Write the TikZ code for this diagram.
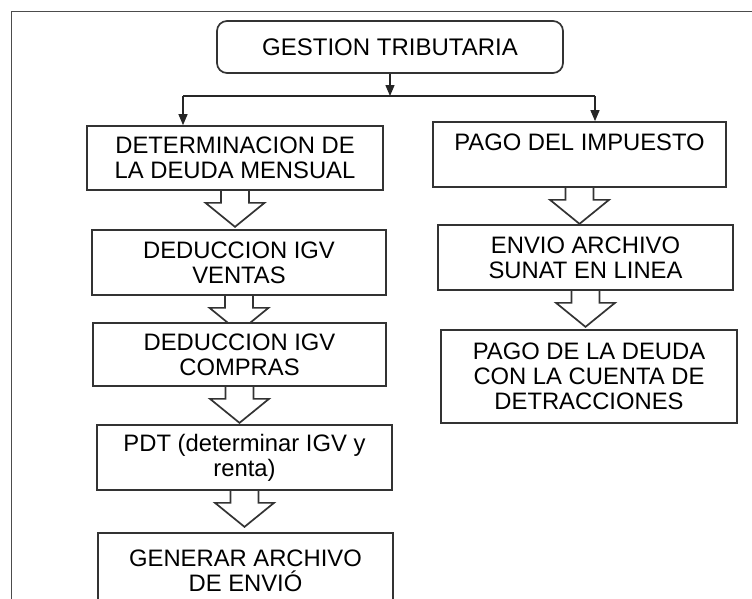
\documentclass[tikz,border=0pt]{standalone}
\usepackage{fontspec}
\setmainfont{Liberation Sans}
\usetikzlibrary{arrows.meta,backgrounds}

\tikzset{
  caja/.style={draw=black!80, line width=1.7pt, fill=white, inner sep=0pt,
    align=center, font=\fontsize{23.8}{25}\selectfont},
  bloque/.style={draw=black!80, line width=1.7pt, fill=white, line join=miter},
  linea/.style={draw=black!85, line width=1.3pt},
  flechita/.style={linea, -{Triangle[length=11pt,width=9pt]}}
}
% flecha hueca bajo una caja
\newcommand{\flecha}[1]{%
  \draw[bloque] (#1.south) ++(-14,0) -- ++(0,12) -- ++(-15.5,0) -- ++(29.5,24)
    -- ++(29.5,-24) -- ++(-15.5,0) -- ++(0,-12);}

\begin{document}
\begin{tikzpicture}[x=1pt, y=-1pt]
    \useasboundingbox (0,0) rectangle (752,598);
    \clip (0,0) rectangle (752,598);
    \draw[draw=black!70, line width=1pt] (11,610) -- (11,11) -- (760,11);

    \node[caja, rounded corners=10pt, minimum width=346pt, minimum height=52pt,
      font=\fontsize{24}{26}\selectfont] (gestion) at (390,47) {GESTION TRIBUTARIA};

    % columna izquierda
    \node[caja, minimum width=296pt, minimum height=64pt] (deter) at (235,158)
      {DETERMINACION DE\\LA DEUDA MENSUAL};
    \node[caja, minimum width=294pt, minimum height=65pt] (ventas) at (239,262.5)
      {DEDUCCION IGV\\VENTAS};
    \node[caja, minimum width=293pt, minimum height=63pt] (compras) at (239.5,354.5)
      {DEDUCCION IGV\\COMPRAS};
    \node[caja, minimum width=295pt, minimum height=65pt] (pdt) at (244.5,457.5)
      {PDT (determinar IGV y\\renta)};
    \node[caja, minimum width=295pt, minimum height=75pt] (generar) at (245.5,570.5)
      {GENERAR ARCHIVO\\DE ENVIÓ};

    % columna derecha
    \node[caja, minimum width=293pt, minimum height=65pt] (pago) at (579.5,154.5)
      {PAGO DEL IMPUESTO\\\mbox{}};
    \node[caja, minimum width=295pt, minimum height=65pt] (envio) at (585.5,257.5)
      {ENVIO ARCHIVO\\SUNAT EN LINEA};
    \node[caja, minimum width=296pt, minimum height=93pt] (deuda) at (589,376.5)
      {PAGO DE LA DEUDA\\CON LA CUENTA DE\\DETRACCIONES};

    \coordinate (cruce) at (390,96);
    \coordinate (izq) at (183,96);
    \coordinate (der) at (595,96);
    \draw[flechita] (gestion) -- (cruce);
    \draw[linea] (izq) -- (der);
    \draw[flechita] (izq) -- (izq |- deter.north);
    \draw[flechita] (der) -- (der |- pago.north);

    \begin{scope}[on background layer]
        \flecha{deter}
        \flecha{ventas}
        \flecha{compras}
        \flecha{pdt}
        \flecha{pago}
        \flecha{envio}
    \end{scope}
\end{tikzpicture}
\end{document}
